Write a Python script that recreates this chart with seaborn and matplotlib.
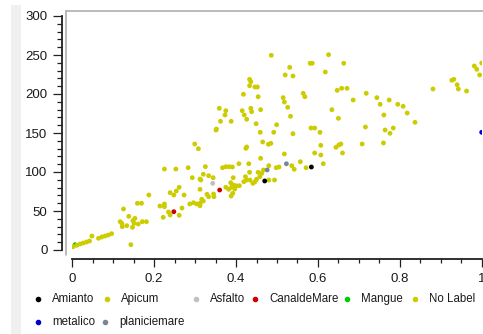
import matplotlib
matplotlib.use("Agg")
import matplotlib.pyplot as plt
import seaborn as sns
import pandas as pd
from matplotlib.lines import Line2D
from matplotlib.patches import Rectangle
from matplotlib.ticker import MultipleLocator, FuncFormatter

# Data

# yellow points (Apicum / No Label share the same colour, kept as "No Label")
nolabel_x = [0.002, 0.011, 0.019, 0.027, 0.035, 0.042, 0.048, 0.064, 0.072, 0.080,
             0.088, 0.096, 0.143, 0.117, 0.121, 0.122, 0.133, 0.138, 0.148, 0.153,
             0.151, 0.161, 0.171, 0.181, 0.147, 0.125, 0.159, 0.169, 0.187, 0.214,
             0.225, 0.225, 0.222, 0.235, 0.239, 0.261, 0.268, 0.239, 0.248, 0.254,
             0.261, 0.273, 0.225, 0.253, 0.283, 0.293, 0.312, 0.299, 0.308, 0.287,
             0.296, 0.304, 0.312, 0.312, 0.316, 0.320, 0.329, 0.333, 0.345, 0.346,
             0.312, 0.314, 0.320, 0.333, 0.344, 0.325, 0.351, 0.367, 0.375, 0.383,
             0.391, 0.407, 0.431, 0.393, 0.387, 0.393, 0.400, 0.408, 0.389, 0.397,
             0.375, 0.382, 0.392, 0.388, 0.423, 0.419, 0.426, 0.434, 0.441, 0.446,
             0.450, 0.458, 0.454, 0.463, 0.467, 0.433, 0.480, 0.494, 0.460, 0.480,
             0.498, 0.505, 0.536, 0.542, 0.571, 0.557, 0.613, 0.518, 0.592, 0.607,
             0.607, 0.651, 0.644, 0.424, 0.426, 0.465, 0.479, 0.485, 0.459, 0.492,
             0.539, 0.605, 0.656, 0.708, 0.760, 0.660, 0.764, 0.776, 0.784, 0.716,
             0.583, 0.592, 0.837, 0.761, 0.650, 0.533, 0.526, 0.634, 0.515, 0.518,
             0.564, 0.568, 0.647, 0.658, 0.671, 0.718, 0.686, 0.744, 0.774, 0.752,
             0.795, 0.808, 0.818, 0.626, 0.581, 0.586, 0.663, 0.531, 0.520, 0.539,
             0.618, 0.486, 0.433, 0.436, 0.433, 0.446, 0.452, 0.418, 0.454, 0.359,
             0.375, 0.373, 0.415, 0.436, 0.438, 0.460, 0.420, 0.426, 0.362, 0.388,
             0.449, 0.499, 0.352, 0.982, 0.988, 1.000, 0.995, 0.927, 0.932, 0.940,
             0.943, 0.963, 0.881]
nolabel_y = [4.2, 6.0, 7.7, 9.0, 10.3, 11.5, 17.9, 15.0, 16.7, 17.9,
             19.2, 20.9, 6.8, 36.3, 34.2, 29.9, 31.2, 43.2, 37.6, 40.6,
             34.2, 33.3, 36.3, 36.3, 29.1, 52.6, 59.9, 59.9, 70.5, 56.4,
             59.0, 55.5, 41.9, 48.7, 44.9, 44.5, 53.8, 73.5, 70.5, 75.6,
             80.4, 70.5, 103.8, 103.8, 105.5, 92.7, 91.0, 135.9, 129.9, 59.0,
             60.6, 59.0, 59.9, 56.8, 65.0, 62.8, 71.4, 68.3, 71.8, 68.3,
             77.8, 89.7, 97.1, 95.3, 92.7, 106.8, 153.8, 105.5, 106.8, 106.8,
             106.4, 110.6, 110.6, 92.7, 86.3, 83.3, 82.4, 82.4, 80.4, 78.2,
             80.4, 77.8, 72.7, 69.2, 94.0, 87.6, 89.7, 89.7, 85.5, 87.2,
             90.6, 94.0, 99.6, 98.3, 102.6, 99.6, 89.7, 89.7, 117.6, 108.1,
             105.5, 106.4, 108.1, 103.5, 105.5, 113.2, 110.6, 123.1, 124.4, 121.8,
             134.2, 134.6, 131.7, 130.4, 132.1, 138.5, 135.5, 136.8, 150.9, 150.9,
             149.1, 150.9, 135.9, 135.9, 137.2, 124.4, 153.8, 149.6, 156.4, 157.7,
             156.4, 156.4, 163.7, 173.1, 168.8, 171.4, 182.9, 179.9, 195.3, 189.7,
             200.9, 196.5, 204.7, 207.3, 207.3, 200.9, 192.3, 195.3, 192.3, 186.8,
             186.8, 184.2, 175.6, 250.4, 239.4, 239.4, 239.4, 234.2, 224.4, 223.1,
             228.2, 249.6, 218.8, 215.8, 210.6, 209.0, 209.0, 199.6, 196.5, 181.7,
             178.6, 173.1, 178.6, 181.7, 177.3, 179.9, 173.1, 167.6, 165.0, 165.0,
             161.9, 160.6, 155.1, 235.9, 231.7, 239.7, 224.4, 217.6, 218.8, 211.9,
             206.4, 203.8, 206.4]

amianto_x = [0.584, 0.470]
amianto_y = [106.4, 88.5]
apicum_x = []
apicum_y = []
asfalto_x = [0.343]
asfalto_y = [85.5]
canal_x = [0.360, 0.248]
canal_y = [76.9, 49.1]
mangue_x = [0.007]
mangue_y = [6.8]
metalico_x = [1.000]
metalico_y = [150.9]
planicie_x = [0.523, 0.476]
planicie_y = [110.6, 102.6]

labels = ["Amianto", "Apicum", "Asfalto", "CanaldeMare", "Mangue", "No Label",
          "metalico", "planiciemare"]
colors = ["#000000", "#CCCC00", "#C0C0C0", "#CC0000", "#00CC00", "#CCCC00",
          "#0000CC", "#778899"]
xticks = [0, 0.2, 0.4, 0.6, 0.8, 1]
yticks = [0, 50, 100, 150, 200, 250, 300]

# long table in drawing order: the mangue dot sits under the yellow ones,
# the other classes are drawn on top of them
series = [("Mangue", mangue_x, mangue_y),
          ("No Label", nolabel_x, nolabel_y), ("Apicum", apicum_x, apicum_y),
          ("Amianto", amianto_x, amianto_y), ("Asfalto", asfalto_x, asfalto_y),
          ("CanaldeMare", canal_x, canal_y),
          ("metalico", metalico_x, metalico_y), ("planiciemare", planicie_x, planicie_y)]
rows = []
for name, xs, ys in series:
    for x, y in zip(xs, ys):
        rows.append({"x": x, "y": y, "label": name})
df = pd.DataFrame(rows)
palette = dict(zip(labels, colors))

sns.set_style("ticks")
plt.rcParams["font.family"] = ["Liberation Sans", "DejaVu Sans"]

W, H = 483, 334
fig = plt.figure(figsize=(W / 100, H / 100), dpi=100)


def fx(px):
    return px / W


def fy(py):
    return 1 - py / H


ax = fig.add_axes([fx(72.3), fy(250), (481.7 - 72.3) / W, (250 - 16) / H])
ax.set_facecolor("white")

sns.scatterplot(data=df, x="x", y="y", hue="label", palette=palette,
                hue_order=[l for l in labels if l in df["label"].unique()],
                s=12, linewidth=0, legend=False, ax=ax)

ax.set_xlim(0, 1)
ax.set_ylim(0, 300)
ax.set_xticks(xticks)
ax.set_yticks(yticks)
ax.xaxis.set_minor_locator(MultipleLocator(0.05))
ax.yaxis.set_minor_locator(MultipleLocator(10))
ax.xaxis.set_major_formatter(FuncFormatter(lambda v, p: f"{v:g}"))
ax.set_xlabel("")
ax.set_ylabel("")

for side in ["top", "right"]:
    ax.spines[side].set_visible(False)
ax.spines["left"].set_position(("outward", 7.2))
ax.spines["bottom"].set_position(("outward", 6.8))
for side in ["left", "bottom"]:
    ax.spines[side].set_color("#202020")
    ax.spines[side].set_linewidth(1.3)

ax.tick_params(axis="y", which="major", length=6.3, width=0.9, color="#202020",
               labelsize=9.5, labelcolor="#1a1a1a", pad=4.3)
ax.tick_params(axis="y", which="minor", length=3.3, width=0.9, color="#202020")
ax.tick_params(axis="x", which="major", length=5.4, width=0.9, color="#202020",
               labelsize=9.5, labelcolor="#1a1a1a", pad=4)
ax.tick_params(axis="x", which="minor", length=3.0, width=0.9, color="#202020")

# light side strip and the chart-area frame
fig.add_artist(Rectangle((fx(11), 0), fx(10), fy(5), transform=fig.transFigure,
                         facecolor="#F0F0F0", edgecolor="none", zorder=0))
fig.add_artist(Line2D([fx(65.5), fx(65.5)], [fy(10.5), fy(255)], transform=fig.transFigure,
                      color="#A8A8A8", lw=1.1))
fig.add_artist(Line2D([fx(65.5), fx(W)], [fy(10.5), fy(10.5)], transform=fig.transFigure,
                      color="#A8A8A8", lw=1.1))

# legend drawn under the plot, placed like the original
legend_pos = [(38, 299), (106.7, 299), (196, 299), (255, 299), (347, 299), (415, 299),
              (38, 322), (105, 322)]
for (mx, my), name, col in zip(legend_pos, labels, colors):
    fig.add_artist(Line2D([fx(mx)], [fy(my)], transform=fig.transFigure, marker="o",
                          markersize=3, color=col, linestyle="none"))
    fig.text(fx(mx + 14), fy(my), name, fontsize=8.3, color="#1a1a1a",
             ha="left", va="center")

fig.savefig("out.png", dpi=100)
